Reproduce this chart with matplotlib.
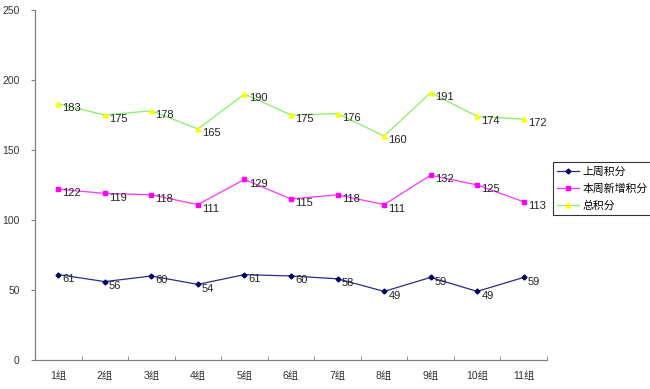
import numpy as np
import matplotlib.pyplot as plt

plt.rcParams['font.family'] = ['Liberation Sans', 'Noto Sans CJK SC']

groups = ['1组', '2组', '3组', '4组', '5组', '6组', '7组', '8组', '9组', '10组', '11组']
last_week = [61, 56, 60, 54, 61, 60, 58, 49, 59, 49, 59]
new_this_week = [122, 119, 118, 111, 129, 115, 118, 111, 132, 125, 113]
total = [183, 175, 178, 165, 190, 175, 176, 160, 191, 174, 172]

series = [
    ('上周积分', last_week, '#2b2b8c', '#000066', 'D', 2.5),
    ('本周新增积分', new_this_week, '#ff33ff', '#ff00ff', 's', 3),
    ('总积分', total, '#88ee66', '#ffff00', '^', 3.5),
]

fig = plt.figure(figsize=(6.5, 3.89), dpi=100)
ax = fig.add_axes([35 / 650, 1 - 360 / 389, 512 / 650, 350 / 389])

x = np.arange(len(groups))
for name, vals, lc, mc, mk, ms in series:
    ax.plot(x, vals, color=lc, lw=0.9, marker=mk, ms=ms,
            mfc=mc, mec=mc, label=name)
    for xi, v in zip(x, vals):
        ax.annotate(str(v), (xi, v), xytext=(3, -3), textcoords='offset points',
                    fontsize=8, color='#222222', va='center', ha='left')

ax.set_xlim(-0.5, len(groups) - 0.5)
ax.set_ylim(0, 250)
ax.set_yticks([0, 50, 100, 150, 200, 250])
ax.set_xticks(x)
ax.set_xticklabels(groups, fontsize=7.5, color='#333333')
ax.set_xticks(np.arange(-0.5, len(groups)), minor=True)
ax.tick_params(axis='x', which='major', length=0, pad=8)
ax.tick_params(axis='x', which='minor', direction='in', length=3, color='#808080')
ax.tick_params(axis='y', direction='out', length=3, color='#808080',
               labelsize=7.5, labelcolor='#333333', pad=8)
for s in ['top', 'right']:
    ax.spines[s].set_visible(False)
for s in ['left', 'bottom']:
    ax.spines[s].set_color('#808080')
    ax.spines[s].set_linewidth(0.9)

leg = fig.legend(loc='upper left', bbox_to_anchor=(553 / 650, 1 - 162 / 389),
                 fontsize=7.8, frameon=True, fancybox=False, borderpad=0.4,
                 handlelength=2.0, handletextpad=0.3, labelspacing=0.65,
                 borderaxespad=0)
leg.get_frame().set_edgecolor('black')
leg.get_frame().set_linewidth(0.8)

fig.savefig('out.png', dpi=100)
